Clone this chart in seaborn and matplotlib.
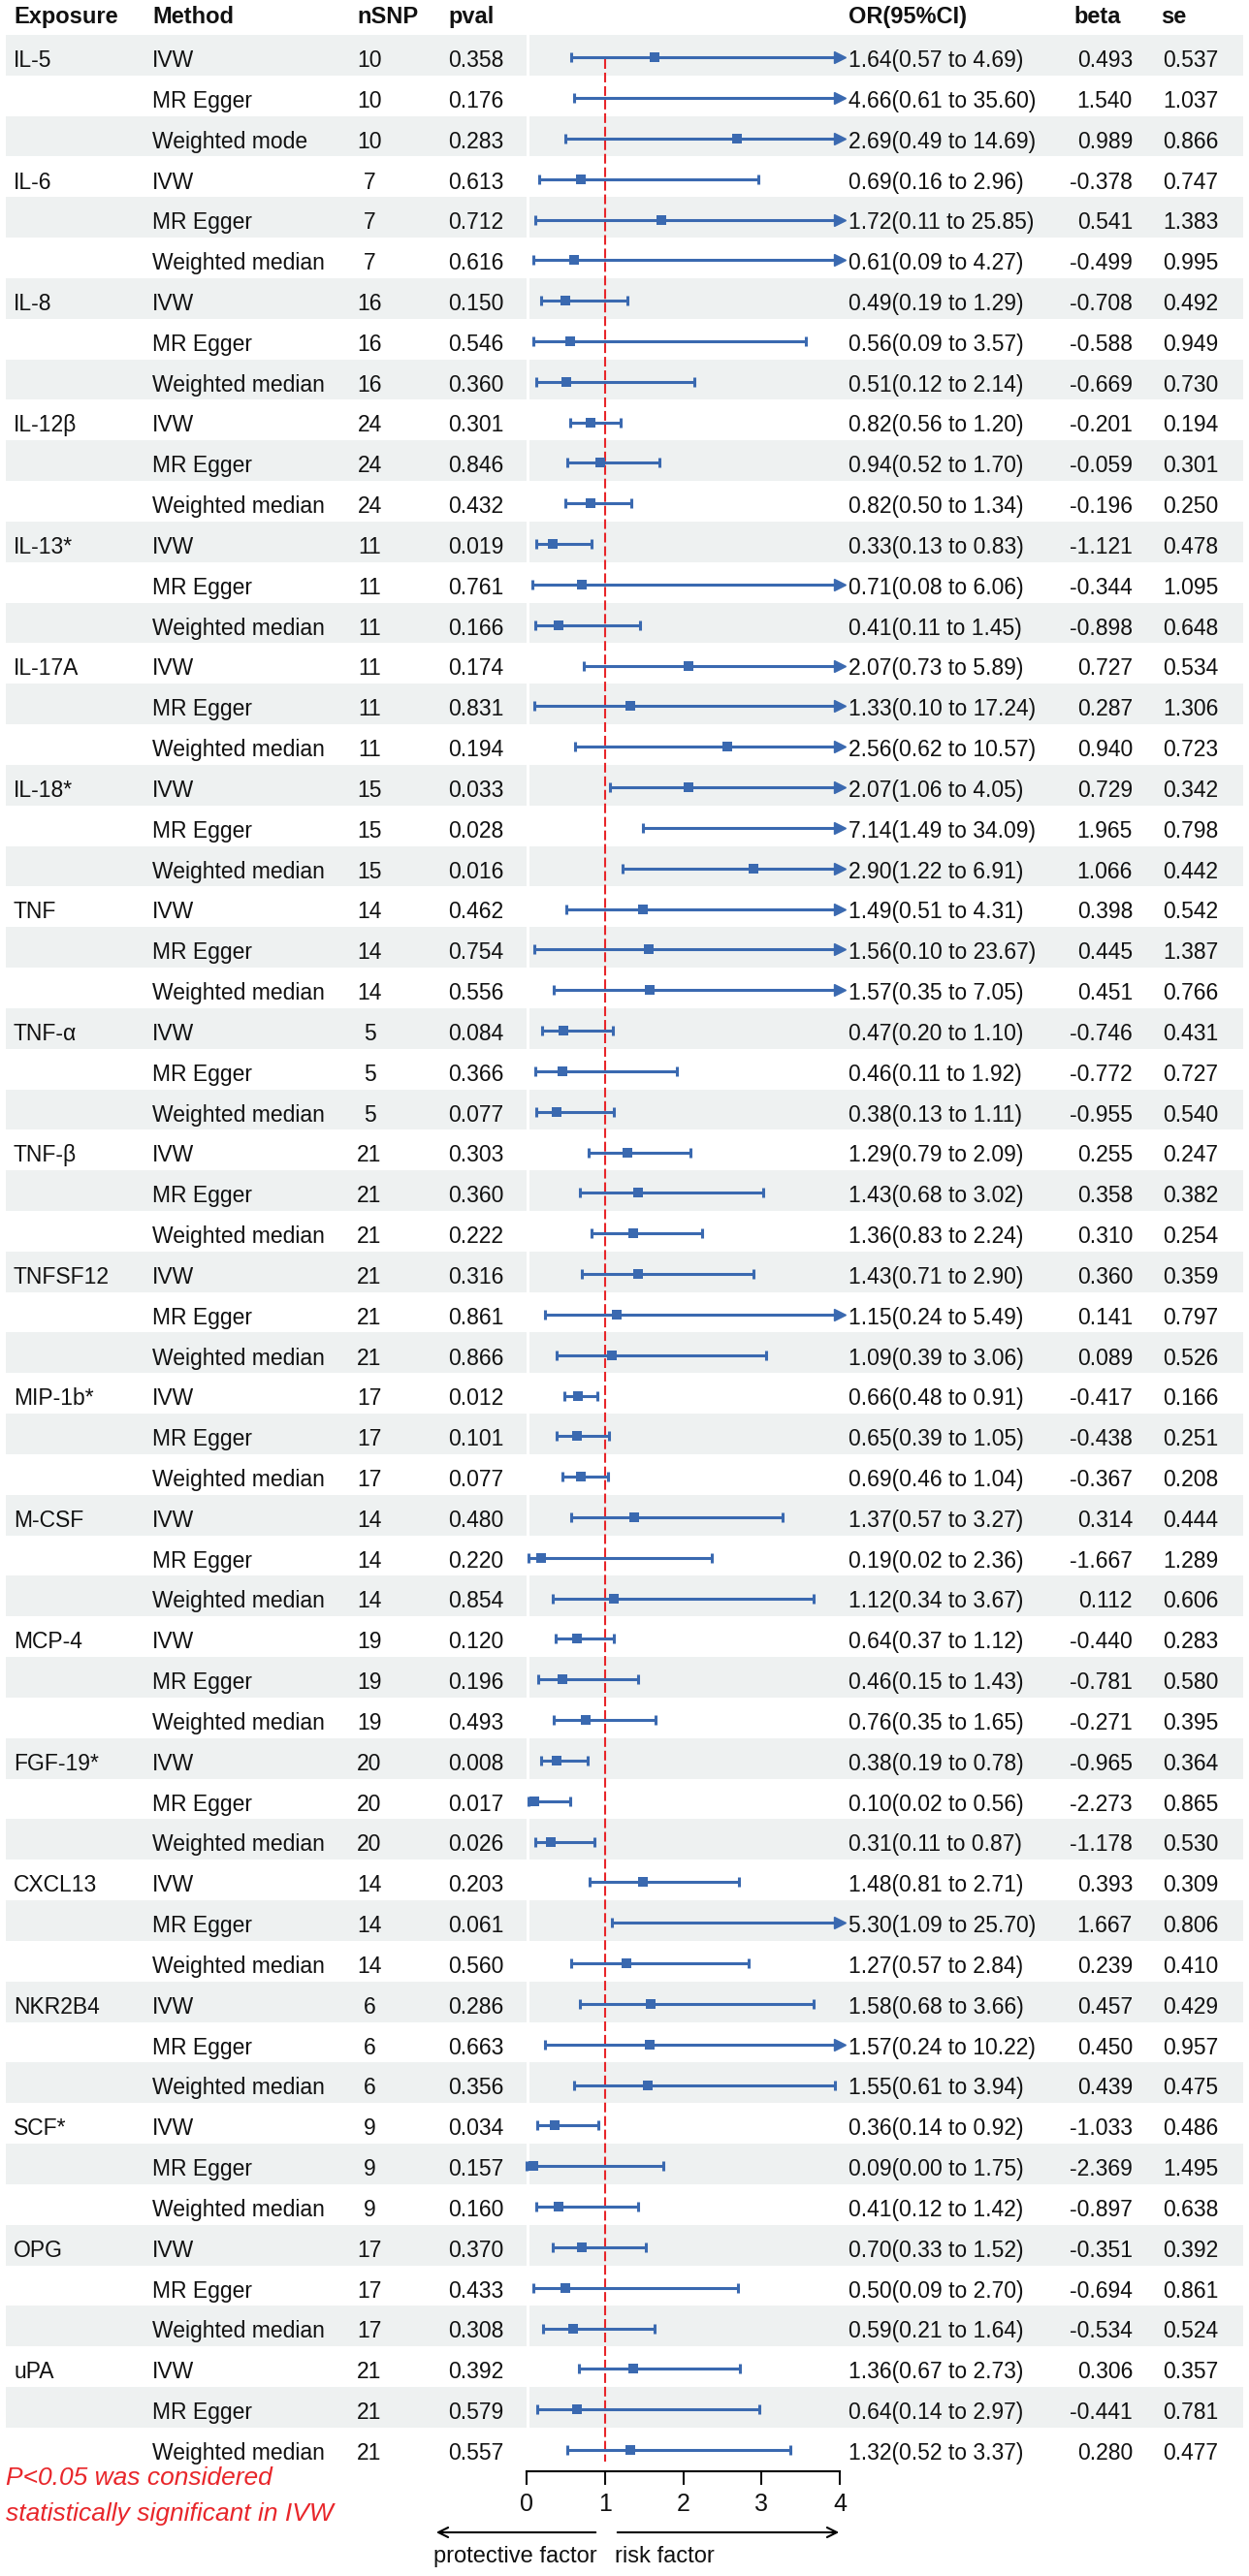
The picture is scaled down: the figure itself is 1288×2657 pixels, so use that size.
import numpy as np
import pandas as pd
import matplotlib.pyplot as plt
import matplotlib.transforms as mtransforms
import seaborn as sns

# --- data ---
exposures = ["IL-5", "IL-6", "IL-8", "IL-12β", "IL-13*", "IL-17A", "IL-18*", "TNF", "TNF-α", "TNF-β",
             "TNFSF12", "MIP-1b*", "M-CSF", "MCP-4", "FGF-19*", "CXCL13", "NKR2B4", "SCF*", "OPG", "uPA"]
methods_first = ["IVW", "MR Egger", "Weighted mode"]
methods_rest = ["IVW", "MR Egger", "Weighted median"]
nsnp_per_exposure = [10, 7, 16, 24, 11, 11, 15, 14, 5, 21, 21, 17, 14, 19, 20, 14, 6, 9, 17, 21]

pval = [0.358, 0.176, 0.283, 0.613, 0.712, 0.616, 0.150, 0.546, 0.360, 0.301, 0.846, 0.432,
        0.019, 0.761, 0.166, 0.174, 0.831, 0.194, 0.033, 0.028, 0.016, 0.462, 0.754, 0.556,
        0.084, 0.366, 0.077, 0.303, 0.360, 0.222, 0.316, 0.861, 0.866, 0.012, 0.101, 0.077,
        0.480, 0.220, 0.854, 0.120, 0.196, 0.493, 0.008, 0.017, 0.026, 0.203, 0.061, 0.560,
        0.286, 0.663, 0.356, 0.034, 0.157, 0.160, 0.370, 0.433, 0.308, 0.392, 0.579, 0.557]
or_est = [1.64, 4.66, 2.69, 0.69, 1.72, 0.61, 0.49, 0.56, 0.51, 0.82, 0.94, 0.82,
          0.33, 0.71, 0.41, 2.07, 1.33, 2.56, 2.07, 7.14, 2.90, 1.49, 1.56, 1.57,
          0.47, 0.46, 0.38, 1.29, 1.43, 1.36, 1.43, 1.15, 1.09, 0.66, 0.65, 0.69,
          1.37, 0.19, 1.12, 0.64, 0.46, 0.76, 0.38, 0.10, 0.31, 1.48, 5.30, 1.27,
          1.58, 1.57, 1.55, 0.36, 0.09, 0.41, 0.70, 0.50, 0.59, 1.36, 0.64, 1.32]
or_lo = [0.57, 0.61, 0.49, 0.16, 0.11, 0.09, 0.19, 0.09, 0.12, 0.56, 0.52, 0.50,
         0.13, 0.08, 0.11, 0.73, 0.10, 0.62, 1.06, 1.49, 1.22, 0.51, 0.10, 0.35,
         0.20, 0.11, 0.13, 0.79, 0.68, 0.83, 0.71, 0.24, 0.39, 0.48, 0.39, 0.46,
         0.57, 0.02, 0.34, 0.37, 0.15, 0.35, 0.19, 0.02, 0.11, 0.81, 1.09, 0.57,
         0.68, 0.24, 0.61, 0.14, 0.00, 0.12, 0.33, 0.09, 0.21, 0.67, 0.14, 0.52]
or_hi = [4.69, 35.60, 14.69, 2.96, 25.85, 4.27, 1.29, 3.57, 2.14, 1.20, 1.70, 1.34,
         0.83, 6.06, 1.45, 5.89, 17.24, 10.57, 4.05, 34.09, 6.91, 4.31, 23.67, 7.05,
         1.10, 1.92, 1.11, 2.09, 3.02, 2.24, 2.90, 5.49, 3.06, 0.91, 1.05, 1.04,
         3.27, 2.36, 3.67, 1.12, 1.43, 1.65, 0.78, 0.56, 0.87, 2.71, 25.70, 2.84,
         3.66, 10.22, 3.94, 0.92, 1.75, 1.42, 1.52, 2.70, 1.64, 2.73, 2.97, 3.37]
beta = [0.493, 1.540, 0.989, -0.378, 0.541, -0.499, -0.708, -0.588, -0.669, -0.201, -0.059, -0.196,
        -1.121, -0.344, -0.898, 0.727, 0.287, 0.940, 0.729, 1.965, 1.066, 0.398, 0.445, 0.451,
        -0.746, -0.772, -0.955, 0.255, 0.358, 0.310, 0.360, 0.141, 0.089, -0.417, -0.438, -0.367,
        0.314, -1.667, 0.112, -0.440, -0.781, -0.271, -0.965, -2.273, -1.178, 0.393, 1.667, 0.239,
        0.457, 0.450, 0.439, -1.033, -2.369, -0.897, -0.351, -0.694, -0.534, 0.306, -0.441, 0.280]
se = [0.537, 1.037, 0.866, 0.747, 1.383, 0.995, 0.492, 0.949, 0.730, 0.194, 0.301, 0.250,
      0.478, 1.095, 0.648, 0.534, 1.306, 0.723, 0.342, 0.798, 0.442, 0.542, 1.387, 0.766,
      0.431, 0.727, 0.540, 0.247, 0.382, 0.254, 0.359, 0.797, 0.526, 0.166, 0.251, 0.208,
      0.444, 1.289, 0.606, 0.283, 0.580, 0.395, 0.364, 0.865, 0.530, 0.309, 0.806, 0.410,
      0.429, 0.957, 0.475, 0.486, 1.495, 0.638, 0.392, 0.861, 0.524, 0.357, 0.781, 0.477]

rows = []
for k, (expo, ns) in enumerate(zip(exposures, nsnp_per_exposure)):
    meths = methods_first if k == 0 else methods_rest
    for j, m in enumerate(meths):
        rows.append({"exposure": expo if j == 0 else "", "method": m, "nsnp": ns})
df = pd.DataFrame(rows)
df["pval"] = pval
df["est"] = or_est
df["lo"] = or_lo
df["hi"] = or_hi
df["beta"] = beta
df["se"] = se
df["row"] = np.arange(len(df))

BLUE = "#3a69b0"
RED = "#e8262a"
BAND = "#eef1f1"
TXT = "#111111"
XMAX = 4

sns.set_style("white")
plt.rcParams["font.family"] = ["Liberation Sans", "DejaVu Sans"]

W, H = 1288, 2657
fig = plt.figure(figsize=(W / 100, H / 100), dpi=100)
ax = fig.add_axes([543 / W, 1 - 2549 / H, 323 / W, (2549 - 36) / H])
n = len(df)

# alternating row shading across the whole table
for i in range(0, n, 2):
    ax.axhspan(i - 0.5, i + 0.5, xmin=(6 - 543) / 323, xmax=0, color=BAND, lw=0, zorder=0, clip_on=False)
    ax.axhspan(i - 0.5, i + 0.5, xmin=3 / 323, xmax=(1282 - 543) / 323, color=BAND, lw=0, zorder=0, clip_on=False)

df["yb"] = df["row"] + 0.055
hi_clip = np.minimum(df["hi"], XMAX)
ax.hlines(df["yb"], df["lo"], hi_clip, color=BLUE, lw=2.2, zorder=3)
ax.plot(df["lo"], df["yb"], ls="none", marker="|", ms=7.5, mew=2.2, color=BLUE, clip_on=False, zorder=3)
inside = df[df["hi"] <= XMAX]
ax.plot(inside["hi"], inside["yb"], ls="none", marker="|", ms=7.5, mew=2.2, color=BLUE, zorder=3)
outside = df[df["hi"] > XMAX]
ax.plot(np.full(len(outside), XMAX), outside["yb"], ls="none", marker=">", ms=8,
        color=BLUE, clip_on=False, zorder=3)

pts = df[df["est"] <= XMAX]
sns.scatterplot(data=pts, x="est", y="yb", marker="s", s=48, color=BLUE, linewidth=0,
                ax=ax, zorder=4, legend=False)

# reference line at OR = 1
ax.vlines(1, 0.1, n - 1 + 0.35, color=RED, lw=1.5, linestyles=(0, (4.8, 1.9)), zorder=2)

ax.set_xlim(0, XMAX)
ax.set_ylim(n - 0.5 + 0.08, -0.5)
ax.set_xlabel("")
ax.set_ylabel("")
ax.set_yticks([])
ax.set_xticks(range(0, XMAX + 1))
ax.tick_params(axis="x", length=10, width=1.5, pad=6, labelsize=18, colors=TXT, bottom=True)
for s in ["top", "left", "right"]:
    ax.spines[s].set_visible(False)
ax.spines["bottom"].set_linewidth(1.5)
ax.spines["bottom"].set_color("black")
ax.patch.set_alpha(0)

# table text
tr = mtransforms.blended_transform_factory(fig.transFigure, ax.transData)
FS = 16.5
for _, r in df.iterrows():
    yt = r["row"] + 0.29
    kw = dict(transform=tr, va="baseline", fontsize=FS, color=TXT)
    ax.text(14 / W, yt, r["exposure"], ha="left", **kw)
    ax.text(157 / W, yt, r["method"], ha="left", **kw)
    ax.text(381 / W, yt, str(r["nsnp"]), ha="center", **kw)
    ax.text(462 / W, yt, f"{r['pval']:.3f}", ha="left", **kw)
    ax.text(875 / W, yt, f"{r['est']:.2f}({r['lo']:.2f} to {r['hi']:.2f})", ha="left", **kw)
    ax.text(1168 / W, yt, f"{r['beta']:.3f}", ha="right", **kw)
    ax.text(1199 / W, yt, f"{r['se']:.3f}", ha="left", **kw)

headers = [("Exposure", 14), ("Method", 157), ("nSNP", 368), ("pval", 462),
           ("OR(95%CI)", 875), ("beta", 1107), ("se", 1197)]
for label, px in headers:
    fig.text(px / W, 1 - 24 / H, label, ha="left", va="baseline", fontsize=17,
             fontweight="bold", color=TXT)

# direction arrows and labels under the axis
ax.annotate("", xy=(447 / W, 1 - 2612 / H), xytext=(617 / W, 1 - 2612 / H), xycoords="figure fraction",
            arrowprops=dict(arrowstyle="->", lw=1.5, color="black", mutation_scale=18))
ax.annotate("", xy=(868 / W, 1 - 2612 / H), xytext=(634 / W, 1 - 2612 / H), xycoords="figure fraction",
            arrowprops=dict(arrowstyle="->", lw=1.5, color="black", mutation_scale=18))
fig.text(447 / W, 1 - 2643 / H, "protective factor", ha="left", va="baseline", fontsize=17, color=TXT)
fig.text(634 / W, 1 - 2643 / H, "risk factor", ha="left", va="baseline", fontsize=17, color=TXT)

fig.text(6 / W, 1 - 2563 / H, "P<0.05 was considered", ha="left", va="baseline",
         fontsize=19, style="italic", color=RED)
fig.text(6 / W, 1 - 2600 / H, "statistically significant in IVW", ha="left", va="baseline",
         fontsize=19, style="italic", color=RED)

fig.savefig("out.png", dpi=100, facecolor="white")
